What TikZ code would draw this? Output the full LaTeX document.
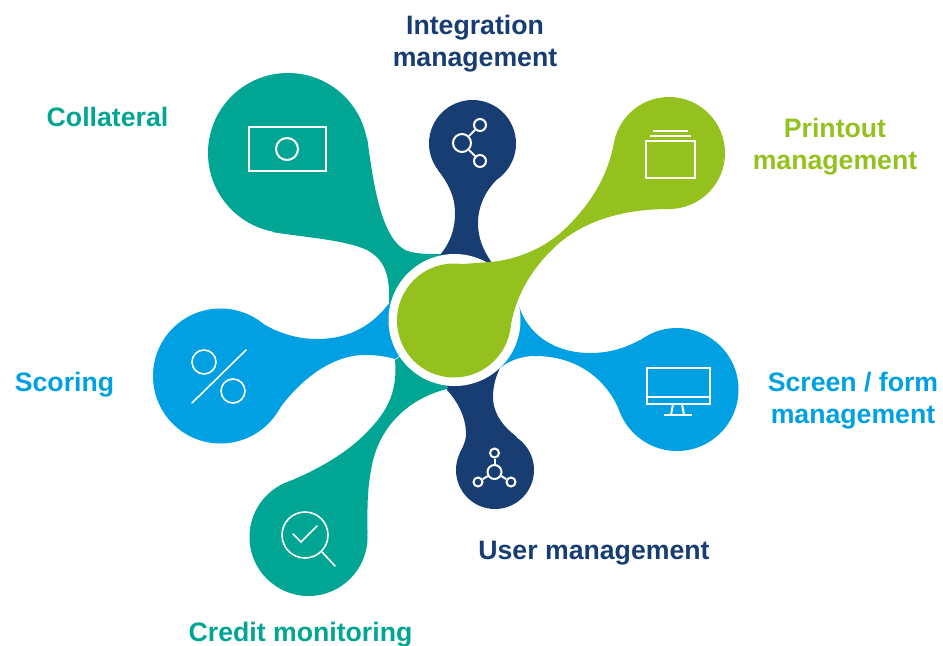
\documentclass[tikz,border=0pt]{standalone}
\usepackage{fontspec}
\setmainfont{Liberation Sans}
\definecolor{cteal}{HTML}{00A593}
\definecolor{cnavy}{HTML}{173D73}
\definecolor{cblue}{HTML}{00A0E3}
\definecolor{cgreen}{HTML}{95C11F}
\tikzset{
  lab/.style={font=\fontsize{20pt}{24pt}\bfseries\selectfont,align=center,inner sep=0pt},
  ico/.style={draw=white,line width=1.5pt,fill=none},
  thin ico/.style={draw=white,line width=1.2pt,fill=none,line cap=round}
}
\begin{document}
\begin{tikzpicture}[x=0.75pt,y=-0.75pt]
\useasboundingbox (0,0) rectangle (943,646);
\coordinate (c) at (455,320);
% petals
\fill[cteal] (288,153) circle (80);
\fill[cteal] (367,137) .. controls (373,180) and (380,236) .. (405,250) .. controls (414,254) and (427,254) .. (440,254) -- (c) -- (389,303) .. controls (390,275) and (385,260) .. (367,250) .. controls (345,240) and (310,238) .. (272,232) -- cycle;
\fill[cteal] (308.5,537) circle (59);
\fill[cteal] (367,545) .. controls (368,510) and (366,495) .. (372,465) .. controls (380,425) and (410,398) .. (447,389) -- (c) -- (395,360) .. controls (398,395) and (385,415) .. (362,437) .. controls (340,458) and (310,473) .. (283,484) -- cycle;
\fill[cnavy] (472.5,143.5) circle (43.5);
\fill[cnavy] (438,170) .. controls (447,182) and (455,195) .. (455,213) .. controls (455,230) and (450,243) .. (440,255) -- (c) -- (492,263) .. controls (483,250) and (478,238) .. (478,223) .. controls (478,205) and (487,187) .. (502,175) -- cycle;
\fill[cnavy] (495,470) circle (39);
\fill[cnavy] (460,453) .. controls (463,446) and (466,442) .. (466,433) .. controls (466,418) and (458,402) .. (447,390) -- (c) -- (500,368) .. controls (495,378) and (493,388) .. (493,397) .. controls (493,415) and (505,428) .. (517,437) -- cycle;
\fill[cblue] (220.5,376) circle (67.5);
\fill[cblue] (257,320) .. controls (275,332) and (295,339) .. (317,339) .. controls (350,339) and (373,325) .. (390,302) -- (c) -- (395,359) .. controls (385,356) and (375,355) .. (365,355) .. controls (330,355) and (298,382) .. (277,412) -- cycle;
\fill[cblue] (677,389.5) circle (61.5);
\fill[cblue] (518,303) .. controls (527,335) and (555,353) .. (590,353) .. controls (610,353) and (625,348) .. (640,340) -- (620,412) .. controls (608,382) and (580,356) .. (535,356) .. controls (522,356) and (510,360) .. (500,368) -- (c) -- cycle;
% ring and hub
\fill[white] (454.5,320) circle (66);
\fill[cgreen] (454,320.5) circle (57);
\fill[cgreen] (669,153) circle (56);
\fill[cgreen] (613.5,145) .. controls (607,178) and (590,204) .. (567,227) .. controls (545,249) and (515,260) .. (490,262) -- (463,264) -- (c) -- (510,330) .. controls (512,318) and (514,310) .. (518,300) .. controls (528,275) and (543,258) .. (557,245) .. controls (585,220) and (625,209) .. (669,209) -- cycle;
% icons
\draw[ico] (249,127) rectangle (326,171);
\draw[ico] (287,149) circle (11);
\node[circle,ico,inner sep=0pt,minimum size=18*0.75pt] (n0) at (462,143) {};
\node[circle,ico,inner sep=0pt,minimum size=12*0.75pt] (n1) at (480,125) {};
\node[circle,ico,inner sep=0pt,minimum size=12*0.75pt] (n2) at (480,161) {};
\draw[ico] (n0) -- (n1); \draw[ico] (n0) -- (n2);
\draw[ico] (646,141) rectangle (695,178);
\draw[ico] (650,136) -- (691,136);
\draw[ico] (653,131) -- (688,131);
\draw[ico] (647,368) rectangle (710,404);
\draw[ico] (647,397) -- (710,397);
\draw[ico] (673,404) -- (671,415);
\draw[ico] (682,404) -- (684,415);
\draw[ico] (664,415) -- (692,415);
\node[circle,ico,inner sep=0pt,minimum size=14*0.75pt] (u0) at (494.5,472) {};
\node[circle,ico,inner sep=0pt,minimum size=9*0.75pt] (u1) at (494.5,453) {};
\node[circle,ico,inner sep=0pt,minimum size=9*0.75pt] (u2) at (478,482) {};
\node[circle,ico,inner sep=0pt,minimum size=9*0.75pt] (u3) at (511,482) {};
\draw[ico] (u0) -- (u1); \draw[ico] (u0) -- (u2); \draw[ico] (u0) -- (u3);
\draw[thin ico] (204,362) circle (12);
\draw[thin ico] (233,391) circle (12);
\draw[thin ico] (246,350) -- (192,403);
\draw[thin ico] (305,535) circle (23);
\draw[thin ico] (322,552) -- (335,566);
\draw[thin ico] (293,534) -- (301,542) -- (317,526);
% labels
\node[lab,text=cnavy] (t1) at (475,44) {Integration\\management};
\node[lab,text=cteal] (t2) at (107.5,117) {Collateral};
\node[lab,text=cgreen] (t3) at (835,147) {Printout\\management};
\node[lab,text=cblue] (t4) at (64.5,385) {Scoring};
\node[lab,text=cblue] (t5) at (853,401) {Screen / form\\management};
\node[lab,text=cnavy] (t6) at (594,553) {User management};
\node[lab,text=cteal] (t7) at (300.5,635) {Credit monitoring};
\end{tikzpicture}
\end{document}
